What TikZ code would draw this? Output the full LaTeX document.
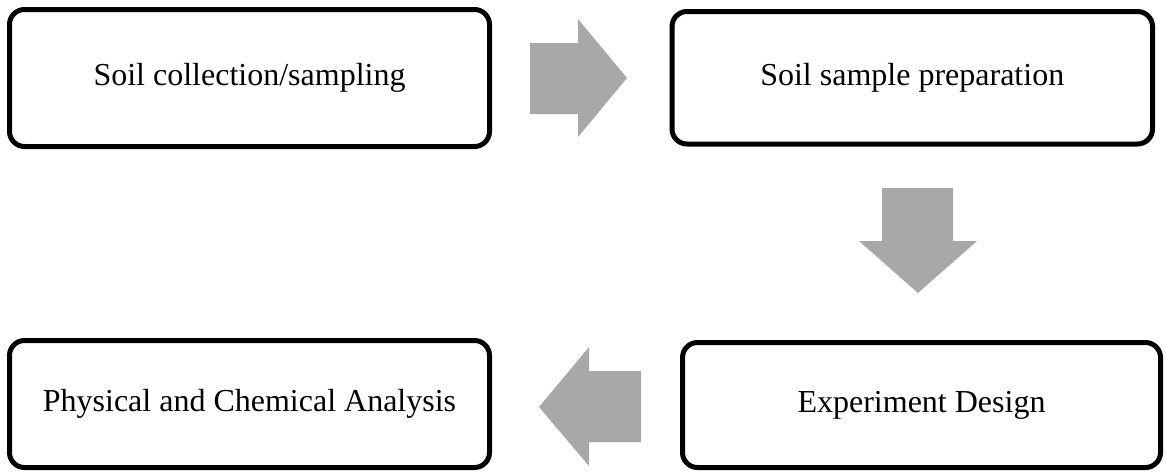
\documentclass[tikz,border=0pt]{standalone}
\usepackage{fontspec}
\setmainfont{Liberation Serif}
\begin{document}
\begin{tikzpicture}[x=1pt,y=-1pt,
  stepbox/.style={draw=black,line width=5pt,rounded corners=15pt,fill=white,
    font=\fontsize{32}{38}\selectfont,inner sep=0pt,anchor=center},
  blockarrow/.style={fill=arrowgray,draw=none}]
\definecolor{arrowgray}{HTML}{A8A8A8}
\useasboundingbox (0,0) rectangle (1166,472);
\node[stepbox,minimum width=480pt,minimum height=137pt] (b1) at (249.5,78) {Soil collection/sampling};
\node[stepbox,minimum width=480.5pt,minimum height=132.5pt] (b2) at (912.25,77.75) {Soil sample preparation};
\node[stepbox,minimum width=478pt,minimum height=125pt] (b4) at (921.5,405) {Experiment Design};
\node[stepbox,minimum width=480pt,minimum height=127pt] (b3) at (249.5,404) {Physical and Chemical Analysis};
% right arrow
\fill[blockarrow] (530,43) -- (578,43) -- (578,19) -- (627,78) -- (578,137) -- (578,114) -- (530,114) -- cycle;
% down arrow
\fill[blockarrow] (882,188) -- (953,188) -- (953,241) -- (977,241) -- (918,293) -- (859,241) -- (882,241) -- cycle;
% left arrow
\fill[blockarrow] (641,371) -- (589,371) -- (589,347) -- (539,407) -- (589,466) -- (589,442) -- (641,442) -- cycle;
\end{tikzpicture}
\end{document}
